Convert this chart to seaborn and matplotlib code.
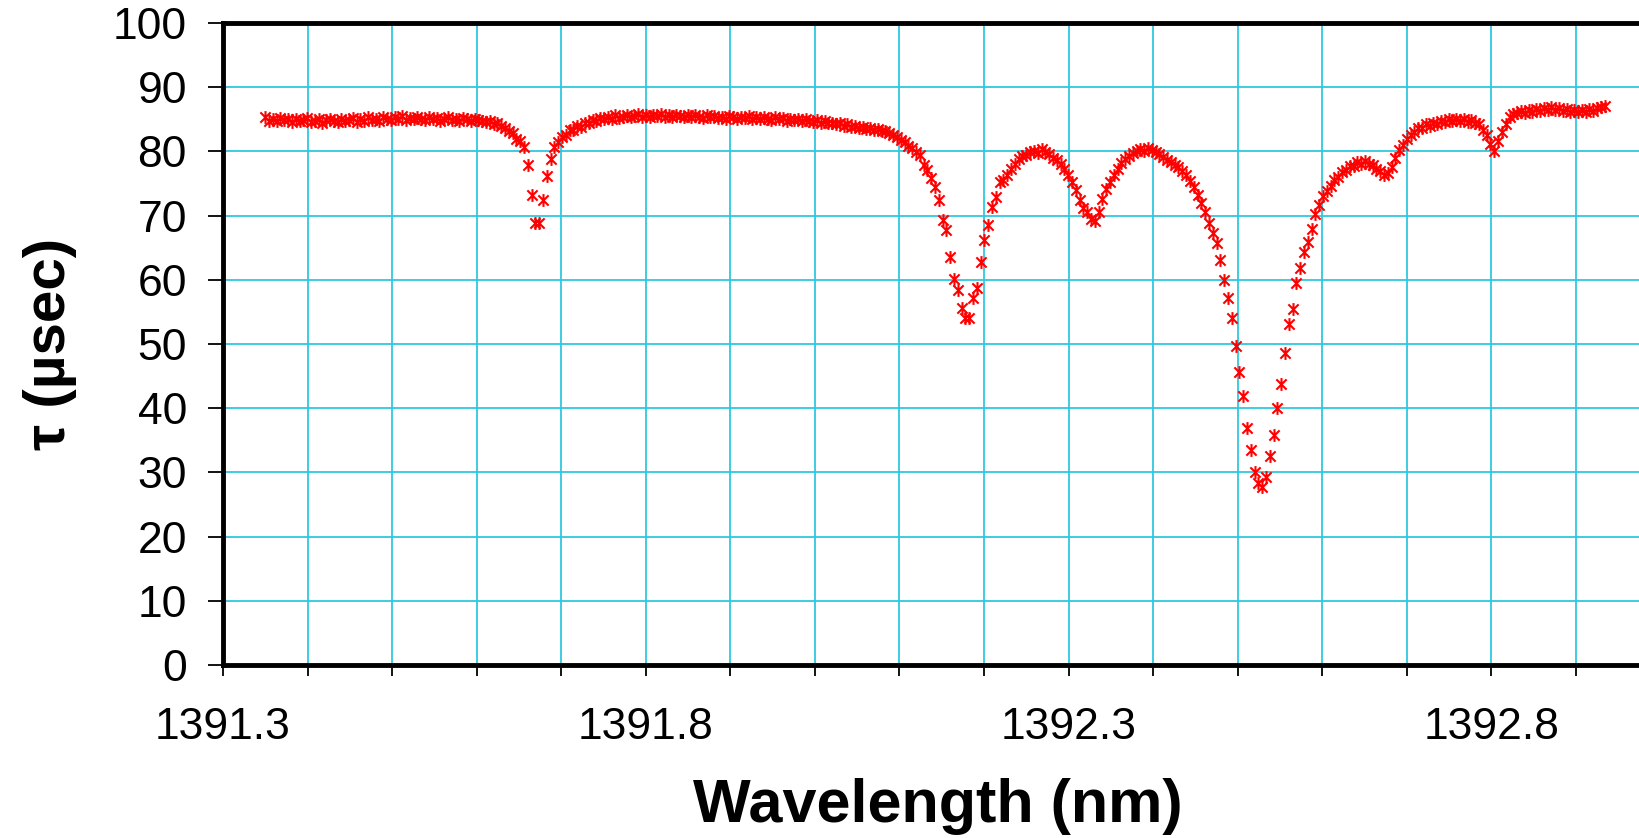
import numpy as np
import pandas as pd
import matplotlib
matplotlib.use("Agg")
import matplotlib.pyplot as plt
import seaborn as sns
from matplotlib.path import Path
from matplotlib.ticker import MultipleLocator, FixedLocator

# ---- data ----
wl_start = 1391.350   # nm, first sample
wl_step = 0.0045      # nm, sampling step

tau_plateau_left = [
    85.3, 84.8, 85.1, 84.7, 85.2, 84.9, 85.0, 84.6, 85.1, 84.8,
    84.9, 85.2, 84.6, 84.8, 85.0, 84.5, 84.9, 85.1, 84.7, 84.6,
    85.0, 84.7, 84.9, 85.2, 84.6, 85.0, 84.8, 85.3, 84.9, 85.1,
    84.8, 85.4, 85.0, 84.9, 85.3, 85.1, 85.5, 84.9, 85.2, 85.0,
    85.4, 85.1, 84.9, 85.3, 85.0, 85.2, 84.8, 85.1, 85.3, 84.9,
    85.1, 84.8, 85.2, 85.0, 84.7, 85.1, 84.9, 84.8]
tau_dip1 = [
    84.6, 84.8, 84.3, 84.4, 83.9, 83.7, 83.1, 82.8, 82.0, 81.6,
    80.7, 77.9, 73.2, 68.8, 68.9, 72.4, 76.2, 78.8, 80.7, 81.4,
    82.3, 82.6, 83.3]
tau_plateau_mid = [
    83.4, 84.0, 83.8, 84.5, 84.4, 84.9, 84.7, 85.2, 85.0,
    85.3, 85.1, 85.6, 85.2, 85.4, 85.7, 85.3, 85.5, 85.8, 85.4,
    85.6, 85.3, 85.7, 85.5, 85.8, 85.4, 85.6, 85.3, 85.7, 85.5,
    85.4, 85.7, 85.3, 85.6, 85.4, 85.2, 85.6, 85.3, 85.5, 85.2,
    85.4, 85.1, 85.5, 85.3, 85.0, 85.4, 85.2, 85.5, 85.1, 85.3,
    85.0, 85.3, 85.1, 84.9, 85.4, 85.0, 85.2, 84.8, 85.1, 84.9,
    85.0, 84.7, 85.1, 84.8, 84.6, 84.9, 84.5, 84.7, 84.4, 84.5,
    84.2, 84.4, 84.0, 84.2, 83.8, 84.0, 83.6, 83.8, 83.5, 83.6]
tau_dip2 = [
    83.4, 83.5, 83.1, 83.2, 82.8, 82.6, 82.3, 81.8, 81.5, 80.9,
    80.5, 79.9, 79.4, 77.9, 77.1, 75.8, 74.5, 72.4, 69.3, 67.8,
    63.6, 60.2, 58.4, 55.6, 54.0, 54.1, 57.1, 58.7, 62.7, 66.2,
    68.5, 71.4, 72.9, 75.3]
tau_arches = [
    75.6, 76.4, 77.3, 78.0, 78.8, 79.3, 79.5, 79.9, 80.1, 79.8,
    80.3, 79.9, 79.6, 79.0, 78.6, 78.1, 77.3, 76.3, 75.2, 74.0,
    72.5, 71.2, 70.6, 69.5, 69.2, 70.5, 72.6, 74.1, 75.3, 76.4,
    77.3, 78.2, 78.8, 79.3, 79.8, 80.0, 80.4, 80.1, 80.5, 80.2,
    79.9, 79.6, 79.1, 78.7, 78.3, 77.9, 77.5, 77.0, 76.3, 75.4,
    74.4, 73.2, 72.0, 70.5, 68.8, 67.3, 65.7]
tau_deep_dip = [
    63.1, 59.9, 57.1, 54.0, 49.7, 45.7, 41.9, 36.9, 33.5, 30.1,
    28.4, 27.8, 29.3, 32.6, 35.9, 40.0, 43.8, 48.6, 53.1, 55.4,
    59.5, 61.9, 64.4]
tau_plateau_right = [
    65.9, 67.9, 70.2, 71.6, 73.0, 73.9, 74.6, 75.6, 76.0, 76.8,
    77.1, 77.7, 77.8, 78.3, 78.1, 78.5, 78.0, 77.9, 77.3, 77.0,
    76.3, 76.7, 77.6, 79.0, 80.2, 81.0, 81.9, 82.6, 83.0, 83.6,
    83.7, 84.2, 84.0, 84.5, 84.3, 84.8, 84.6, 85.0, 84.7, 85.1,
    84.8, 85.0, 84.6, 84.9, 84.4, 84.2, 83.4, 82.6, 81.2, 80.0,
    81.6, 83.0, 84.3, 85.4, 85.9, 86.0, 86.3, 86.0, 86.4, 86.2,
    86.6, 86.3, 86.8, 86.5, 86.9, 86.4, 86.7, 86.3, 86.6, 86.2,
    86.5, 86.1, 86.4, 86.2, 86.6, 86.3, 86.7, 86.9, 87.0]

x_ticks = [1391.3, 1391.8, 1392.3, 1392.8]
x_tick_labels = ["1391.3", "1391.8", "1392.3", "1392.8"]
y_ticks = [0, 10, 20, 30, 40, 50, 60, 70, 80, 90, 100]
x_label = "Wavelength (nm)"
y_label = "τ (µsec)"

tau = (tau_plateau_left + tau_dip1 + tau_plateau_mid + tau_dip2 +
       tau_arches + tau_deep_dip + tau_plateau_right)
wavelength = np.round(wl_start + wl_step * np.arange(len(tau)), 4)
df = pd.DataFrame({"wavelength": wavelength, "tau": tau})

# ---- style ----
sns.set_theme(style="white")
plt.rcParams['font.family'] = ['Liberation Sans', 'DejaVu Sans']

fig = plt.figure(figsize=(16.4, 8.38), dpi=100)
ax = fig.add_axes([223 / 1640, 173 / 838, (1652 - 223) / 1640, 642 / 838])

star = Path([(-1, -1), (1, 1), (-1, 1), (1, -1), (0, -1.25), (0, 1.25)],
            [Path.MOVETO, Path.LINETO] * 3)

sns.scatterplot(data=df, x="wavelength", y="tau", marker=star, s=85,
                color="#FF0000", edgecolor="#FF0000", linewidth=1.5,
                ax=ax, zorder=3, legend=False)

ax.set_xlim(1391.3, 1392.99)
ax.set_ylim(0, 100)
ax.xaxis.set_major_locator(FixedLocator(x_ticks))
ax.xaxis.set_minor_locator(MultipleLocator(0.1))
ax.set_xticks(x_ticks)
ax.set_xticklabels(x_tick_labels)
ax.set_yticks(y_ticks)
ax.set_yticklabels([str(v) for v in y_ticks])

grid_col = "#2EC8DF"
ax.grid(True, which="major", axis="both", color=grid_col, linewidth=1.3, zorder=0)
ax.grid(True, which="minor", axis="x", color=grid_col, linewidth=1.3, zorder=0)
ax.set_axisbelow(True)

for side in ["left", "bottom", "top", "right"]:
    ax.spines[side].set_visible(True)
    ax.spines[side].set_color("black")
    ax.spines[side].set_linewidth(3.5)

ax.tick_params(axis="y", which="major", direction="out", left=True, length=11,
               width=1.3, color="black", pad=15, labelsize=32, labelcolor="black")
ax.tick_params(axis="x", which="both", direction="out", bottom=True, length=8,
               width=1.3, color="black", pad=22, labelsize=32, labelcolor="black")

ax.set_xlabel(x_label, fontsize=44, fontweight="bold", labelpad=22, color="black")
ax.set_ylabel(y_label, fontsize=42, fontweight="bold", labelpad=26, color="black")

fig.savefig("out.png", dpi=100)
